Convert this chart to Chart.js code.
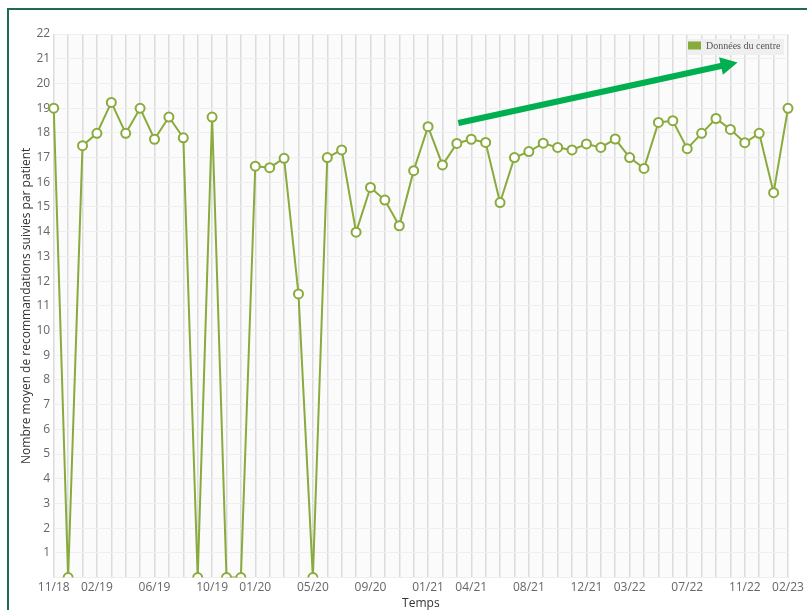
<!DOCTYPE html>
<html>
<head>
<meta charset="utf-8">
<script src="https://cdn.jsdelivr.net/npm/chart.js@4.4.0/dist/chart.umd.min.js"></script>
<style>
  html, body { margin: 0; padding: 0; background: #fff; }
  #wrap { position: relative; width: 807px; height: 610px; }
  #frame {
    position: absolute; left: 7px; top: 8px; right: 0; bottom: 0;
    border-left: 2px solid #1f6b52; border-top: 2px solid #1f6b52;
    pointer-events: none;
  }
</style>
</head>
<body>
<div id="wrap">
  <canvas id="trendChart" width="807" height="610"></canvas>
  <div id="frame"></div>
</div>
<script>
// Months (one point per month)
const months = [
  "11/18", "12/18",
  "01/19", "02/19", "03/19", "04/19", "05/19", "06/19", "07/19", "08/19", "09/19", "10/19", "11/19", "12/19",
  "01/20", "02/20", "03/20", "04/20", "05/20", "06/20", "07/20", "08/20", "09/20", "10/20", "11/20", "12/20",
  "01/21", "02/21", "03/21", "04/21", "05/21", "06/21", "07/21", "08/21", "09/21", "10/21", "11/21", "12/21",
  "01/22", "02/22", "03/22", "04/22", "05/22", "06/22", "07/22", "08/22", "09/22", "10/22", "11/22", "12/22",
  "01/23", "02/23",
];

// Labels actually printed under the x axis
const shownTicks = [
  "11/18", "02/19", "06/19", "10/19", "01/20", "05/20", "09/20", "01/21",
  "04/21", "08/21", "12/21", "03/22", "07/22", "11/22", "02/23",
];

// Mean number of followed recommendations per patient
const centreValues = [
  19.0, 0, 17.48, 17.98, 19.23, 17.98, 18.99, 17.74, 18.64, 17.8,
  0, 18.64, 0, 0, 16.65, 16.59, 16.97, 11.48, 0, 17.0,
  17.31, 13.98, 15.79, 15.28, 14.24, 16.47, 18.25, 16.7, 17.57, 17.74,
  17.61, 15.18, 17.0, 17.24, 17.58, 17.41, 17.31, 17.55, 17.41, 17.75,
  17.0, 16.56, 18.42, 18.49, 17.36, 17.98, 18.58, 18.14, 17.6, 17.98,
  15.58, 18.99,
];

// Trend arrow, in data units: [month index, value]
const arrowFrom = [28.1, 18.4];
const arrowTo = [47.5, 20.85];

const lineGreen = "#89aa3c";

// light plot background
const plotBg = {
  id: "plotBg",
  beforeDraw(chart) {
    const { ctx, chartArea: a } = chart;
    ctx.save();
    ctx.fillStyle = "#fbfbfb";
    ctx.fillRect(a.left, a.top, a.right - a.left, a.bottom - a.top);
    ctx.restore();
  },
};

// small legend box in the top right corner of the plot
const cornerLegend = {
  id: "cornerLegend",
  afterDraw(chart) {
    const { ctx, chartArea: a } = chart;
    const ds = chart.data.datasets[0];
    const x = a.right - 101;
    const y = a.top + 5;
    ctx.save();
    ctx.fillStyle = "#efefef";
    ctx.fillRect(x, y, 97, 16);
    ctx.fillStyle = ds.borderColor;
    ctx.fillRect(x + 1, y + 2.5, 13, 8);
    ctx.fillStyle = "#555";
    ctx.font = "10px 'Liberation Serif', 'DejaVu Serif', serif";
    ctx.textBaseline = "middle";
    ctx.fillText(ds.label, x + 19, y + 7);
    ctx.restore();
  },
};

// green trend arrow
const trendArrow = {
  id: "trendArrow",
  afterDatasetsDraw(chart) {
    const { ctx, scales } = chart;
    const x1 = scales.x.getPixelForValue(arrowFrom[0]);
    const y1 = scales.y.getPixelForValue(arrowFrom[1]);
    const x2 = scales.x.getPixelForValue(arrowTo[0]);
    const y2 = scales.y.getPixelForValue(arrowTo[1]);
    const ang = Math.atan2(y2 - y1, x2 - x1);
    const headLen = 17;
    const headHalf = 9;
    const bx = x2 - headLen * Math.cos(ang);
    const by = y2 - headLen * Math.sin(ang);
    ctx.save();
    ctx.strokeStyle = "#00b050";
    ctx.fillStyle = "#00b050";
    ctx.lineWidth = 6;
    ctx.beginPath();
    ctx.moveTo(x1, y1);
    ctx.lineTo(bx + Math.cos(ang), by + Math.sin(ang));
    ctx.stroke();
    ctx.beginPath();
    ctx.moveTo(x2, y2);
    ctx.lineTo(bx + headHalf * Math.sin(ang), by - headHalf * Math.cos(ang));
    ctx.lineTo(bx - headHalf * Math.sin(ang), by + headHalf * Math.cos(ang));
    ctx.closePath();
    ctx.fill();
    ctx.restore();
  },
};

const ctx = document.getElementById("trendChart");
new Chart(ctx, {
  type: "line",
  data: {
    labels: months,
    datasets: [
      {
        label: "Données du centre",
        data: centreValues,
        borderColor: lineGreen,
        backgroundColor: "#ffffff",
        borderWidth: 2,
        tension: 0,
        pointRadius: 4.5,
        pointBorderWidth: 2,
        pointBackgroundColor: "#ffffff",
        pointBorderColor: lineGreen,
      },
    ],
  },
  options: {
    responsive: false,
    animation: false,
    layout: {
      padding: { left: 13, top: 34, right: 19, bottom: 0 },
    },
    plugins: {
      legend: { display: false },
      tooltip: { enabled: false },
    },
    scales: {
      x: {
        offset: false,
        grid: {
          color: "#dcdcdc",
          lineWidth: 1.5,
          drawTicks: false,
        },
        border: { display: false },
        ticks: {
          autoSkip: false,
          maxRotation: 0,
          padding: 3,
          color: "#666",
          font: { family: "'Open Sans', sans-serif", size: 12 },
          callback: function (value) {
            const lab = this.getLabelForValue(value);
            return shownTicks.includes(lab) ? lab : "";
          },
        },
        title: {
          display: true,
          text: "Temps",
          color: "#333",
          padding: { top: 0, bottom: 0 },
          font: { family: "'Open Sans', sans-serif", size: 12, lineHeight: 1 },
        },
      },
      y: {
        min: 0,
        max: 22,
        grid: {
          color: "#efefef",
          lineWidth: 1,
          drawTicks: false,
        },
        border: { display: false },
        ticks: {
          stepSize: 1,
          padding: 3.5,
          color: "#666",
          font: { family: "'Open Sans', sans-serif", size: 12 },
          callback: function (value) {
            return value === 0 ? "" : value;
          },
        },
        title: {
          display: true,
          text: "Nombre moyen de recommandations suivies par patient",
          color: "#333",
          padding: { top: 8, bottom: 0 },
          font: { family: "'Open Sans', sans-serif", size: 12, lineHeight: 1 },
        },
      },
    },
  },
  plugins: [plotBg, trendArrow, cornerLegend],
});
</script>
</body>
</html>
